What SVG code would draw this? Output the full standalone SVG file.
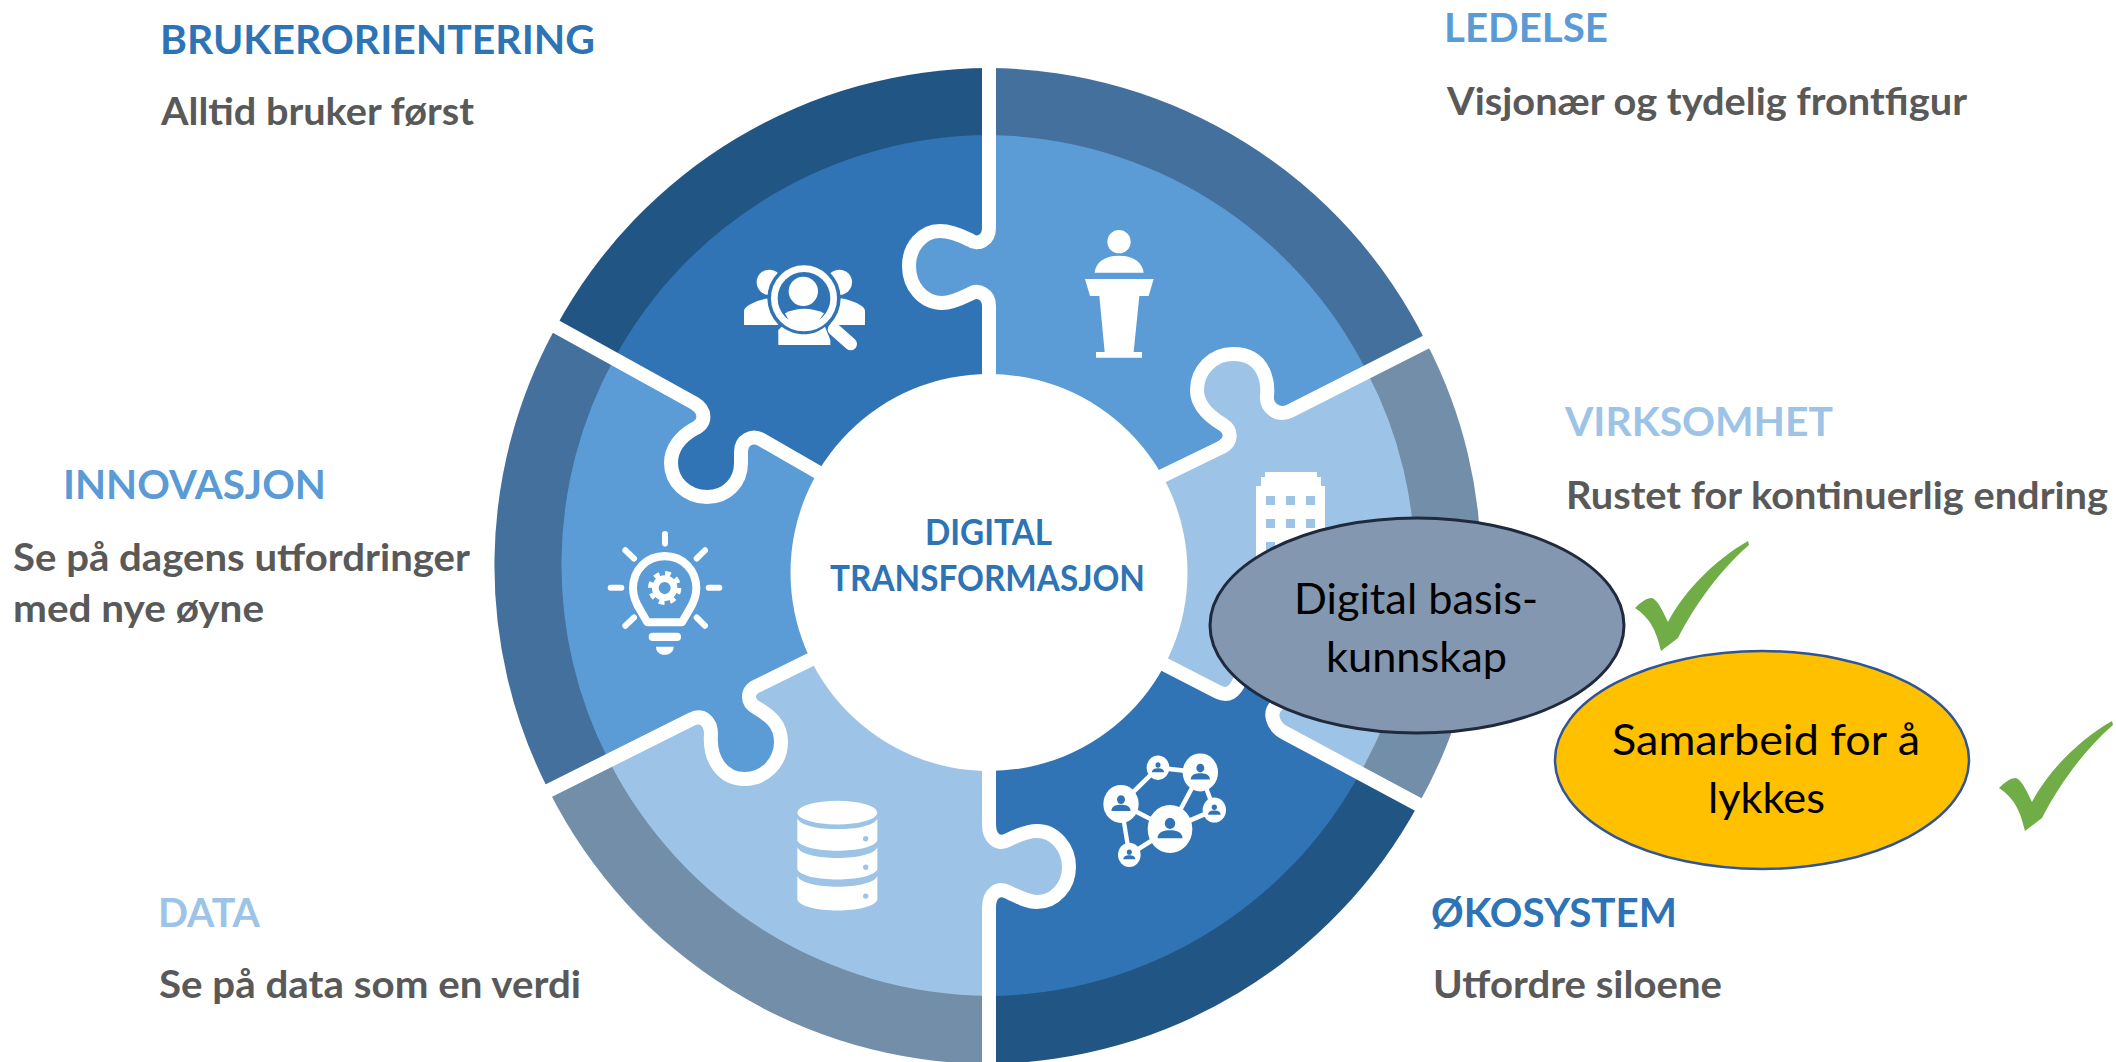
<svg xmlns="http://www.w3.org/2000/svg" width="2116" height="1062" viewBox="0 0 2116 1062">
<style>
text{font-family:Lato,"Open Sans","Liberation Sans",sans-serif}
.h{font-weight:700;font-size:40px}
.s{font-weight:700;font-size:38px;fill:#595959}
.c{font-weight:700;font-size:36px;fill:#2E74B5}
.e{font-size:42px;fill:#000}
.dk{fill:#2E74B5}.md{fill:#5B9BD5}.lt{fill:#9DC3E6}
.r1{fill:#215583}.r2{fill:#44709D}.r3{fill:#728EA8}
.i1{fill:#3074B5}.i2{fill:#5B9BD6}.i3{fill:#9DC3E6}
.w{fill:#fff}
.sep{fill:none;stroke:#fff;stroke-width:14;stroke-linejoin:round}
.ln{stroke:#fff;fill:none;stroke-linecap:round}
</style>
<defs>
<g id="person"><circle cy="-.3" r=".3"/><path d="M-.72 .5C-.72 .12-.3 .06 0 .06C.3 .06 .72 .12 .72 .5Z"/></g>
<path id="tick" fill="#70AD47" d="M1635 608C1640 603 1646 598 1652 598C1658 600 1663 612 1668 622C1685 590 1715 560 1748 541L1749 545C1720 570 1695 605 1678 638L1661 651C1656 630 1650 618 1635 608Z"/>
</defs>
<g id="ring">
<path class="r1" d="M989 566L556 327A494 494 0 0 1 989 68Z"/>
<path class="r2" d="M989 566L989 68A492 492 0 0 1 1426 342Z"/>
<path class="r3" d="M989 566L1426 342A484 484 0 0 1 1418 805Z"/>
<path class="r1" d="M989 566L1418 805A495 495 0 0 1 989 1064Z"/>
<path class="r3" d="M989 566L989 1064A495 495 0 0 1 549 791Z"/>
<path class="r2" d="M989 566L549 791A493 493 0 0 1 556 327Z"/>
</g>
<g id="brukerorientering-piece"><path class="i1" d="M614 359A429 429 0 0 1 989 135V228C989 240 978 246 970 240C960 235 950 231 940 231C922 231 909 247 909 266C909 286 923 303 942 303C952 303 962 298 970 294C978 289 989 294 989 306V572L825 476L762 440C752 434 741 440 741 452L741 463C741 482 727 497 707 497C687 497 671 482 671 463C671 449 680 437 694 429C707 423 706 410 694 403Z"/></g>
<g id="ledelse-piece"><path class="i2" d="M989 135A429 429 0 0 1 1367 372L1290 411C1278 417 1266 408 1267 396C1268 386 1267 354 1233 354C1213 354 1197 370 1197 390C1197 403 1207 415 1222 424C1232 430 1233 442 1220 448L1160 477L989 572V306C989 294 978 289 970 294C962 298 952 303 942 303C923 303 909 286 909 266C909 247 922 231 940 231C950 231 960 235 970 240C978 246 989 240 989 228Z"/></g>
<g id="virksomhet-piece"><path class="i3" d="M1367 372A418 418 0 0 1 1360 773L1285 733C1272 726 1268 712 1278 704C1290 694 1320 700 1320 650C1320 620 1270 610 1255 640C1248 655 1245 668 1240 680C1235 692 1228 697 1218 692L1155 660L989 572L1160 477L1220 448C1233 442 1232 430 1222 424C1207 415 1197 403 1197 390C1197 370 1213 354 1233 354C1267 354 1268 386 1267 396C1266 408 1278 417 1290 411Z"/></g>
<g id="okosystem-piece"><path class="i1" d="M1360 773A427 427 0 0 1 989 996V908C989 893 998 887 1008 892C1018 897 1028 902 1037 902C1055 902 1069 886 1069 867C1069 848 1055 831 1037 831C1028 831 1018 835 1008 840C998 845 989 839 989 824V572L1155 660L1218 692C1228 697 1235 692 1240 680C1245 668 1248 655 1255 640C1270 610 1320 620 1320 650C1320 700 1290 694 1278 704C1268 712 1272 726 1285 733Z"/></g>
<g id="data-piece"><path class="i3" d="M989 996A430 430 0 0 1 609 761L692 719C703 714 711 722 711 734C709 759 722 779 745 779C765 779 781 762 781 742C781 724 770 716 757 708C746 702 746 690 759 685L815 656L989 572V824C989 839 998 845 1008 840C1018 835 1028 831 1037 831C1055 831 1069 848 1069 867C1069 886 1055 902 1037 902C1028 902 1018 897 1008 892C998 887 989 893 989 908Z"/></g>
<g id="innovasjon-piece"><path class="i2" d="M609 761A429 429 0 0 1 614 359L694 403C706 410 707 423 694 429C680 437 671 449 671 463C671 482 687 497 707 497C727 497 741 482 741 463L741 452C741 440 752 434 762 440L825 476L989 572L815 656L759 685C746 690 746 702 757 708C770 716 781 724 781 742C781 762 765 779 745 779C722 779 709 759 711 734C711 722 703 714 692 719Z"/></g>
<g id="connectors">
<path class="sep" d="M989 55V228C989 240 978 246 970 240C960 235 950 231 940 231C922 231 909 247 909 266C909 286 923 303 942 303C952 303 962 298 970 294C978 289 989 294 989 306V400"/>
<path class="sep" d="M1440 335L1290 411C1278 417 1266 408 1267 396C1268 386 1267 354 1233 354C1213 354 1197 370 1197 390C1197 403 1207 415 1222 424C1232 430 1233 442 1220 448L1150 482"/>
<path class="sep" d="M1436 814L1285 733C1272 726 1268 712 1278 704C1290 694 1320 700 1320 650C1320 620 1270 610 1255 640C1248 655 1245 668 1240 680C1235 692 1228 697 1218 692L1150 657"/>
<path class="sep" d="M989 1075V908C989 893 998 887 1008 892C1018 897 1028 902 1037 902C1055 902 1069 886 1069 867C1069 848 1055 831 1037 831C1028 831 1018 835 1008 840C998 845 989 839 989 824V750"/>
<path class="sep" d="M530 800L692 719C703 714 711 722 711 734C709 759 722 779 745 779C765 779 781 762 781 742C781 724 770 716 757 708C746 702 746 690 759 685L830 650"/>
<path class="sep" d="M535 315L694 403C706 410 707 423 694 429C680 437 671 449 671 463C671 482 687 497 707 497C727 497 741 482 741 463L741 452C741 440 752 434 762 440L835 482"/>
</g>
<g id="digital-transformasjon">
<circle class="w" cx="989" cy="572.5" r="198.5"/>
<text class="c" x="925" y="545" textLength="127" lengthAdjust="spacingAndGlyphs">DIGITAL</text>
<text class="c" x="830" y="591" textLength="315" lengthAdjust="spacingAndGlyphs">TRANSFORMASJON</text>
</g>
<g id="icon-users" class="w" transform="translate(480 50) scale(.33333)">
<circle cx="868" cy="697" r="38"/><circle cx="1078" cy="697" r="38"/>
<path d="M792 825V783C792 768 830 750 868 745L895 825Z"/><path d="M1155 825V783C1155 768 1117 750 1080 745L1050 825Z"/>
<circle class="i1" cx="972" cy="745" r="110"/>
<circle cx="972" cy="745" r="89" fill="none" stroke="#fff" stroke-width="20"/>
<circle cx="970" cy="724" r="44"/>
<path d="M915 790C950 772 995 772 1032 790L1012 818C990 834 950 834 930 818Z"/>
<path d="M895 840L905 830C945 860 1000 860 1035 830L1051 870V885H895Z"/>
<path class="ln" stroke-width="38" d="M1062 838L1112 882"/>
</g>
<g id="icon-podium" class="w" transform="translate(980 50) scale(.33333)">
<circle cx="417" cy="575" r="35"/>
<path d="M344 668C346 640 370 617 417 617C464 617 488 640 491 668Z"/>
<path d="M315 687H521L506 738H478L461 906H486V923H348V906H374L358 738H330Z"/>
</g>
<g id="icon-building">
<path class="w" d="M1256 600V486H1261V477H1265V472H1317V477H1321V486H1325V600Z"/>
<g class="i3"><rect x="1266" y="496" width="9" height="9"/><rect x="1286" y="496" width="9" height="9"/><rect x="1306" y="496" width="9" height="9"/><rect x="1266" y="519" width="9" height="9"/><rect x="1286" y="519" width="9" height="9"/><rect x="1306" y="519" width="9" height="9"/><rect x="1266" y="542" width="9" height="9"/><rect x="1286" y="542" width="9" height="9"/><rect x="1306" y="542" width="9" height="9"/></g>
</g>
<g id="icon-network" transform="translate(980 500) scale(.33333 .3584)">
<path class="ln" stroke-width="13" d="M534 747L661 760M534 747L423 848M661 760L570 918M661 760L703 865M703 865L570 918M423 848L570 918M423 848L448 990M448 990L570 918"/>
<g class="w"><circle cx="534" cy="747" r="34"/><circle cx="661" cy="760" r="53"/><circle cx="423" cy="848" r="53"/><circle cx="570" cy="918" r="67"/><circle cx="703" cy="865" r="35"/><circle cx="448" cy="990" r="34"/></g>
<g class="i1">
<use href="#person" transform="translate(534 747) scale(25)"/>
<use href="#person" transform="translate(661 760) scale(40)"/>
<use href="#person" transform="translate(423 848) scale(40)"/>
<use href="#person" transform="translate(570 918) scale(52)"/>
<use href="#person" transform="translate(703 865) scale(26)"/>
<use href="#person" transform="translate(448 990) scale(25)"/>
</g>
</g>
<g id="icon-bulb" transform="translate(480 530) scale(.33333 .3393)">
<path class="ln" stroke-width="24" stroke-linejoin="round" d="M606 272H502L482 238C470 220 459 200 459 172C459 118 500 77 554 77C608 77 649 118 649 172C649 200 638 220 626 238Z"/>
<path class="ln" stroke-width="18" d="M555 12V40M675 60L650 84M718 170H686M675 282L650 258M392 170H424M436 60L462 84M436 282L462 258"/>
<rect class="w" x="506" y="303" width="97" height="24" rx="12"/>
<path class="w" d="M528 344H581C581 358 570 368 554 368C538 368 528 358 528 344Z"/>
<circle cx="554" cy="171" r="28" fill="none" stroke="#fff" stroke-width="20"/>
<circle cx="554" cy="171" r="43" fill="none" stroke="#fff" stroke-width="14" stroke-dasharray="17 16.77"/>
</g>
<g id="icon-database" transform="translate(480 530) scale(.33333 .3393)">
<g class="w"><ellipse cx="1072" cy="833" rx="120" ry="35"/>
<path d="M952 850C970 892 1175 892 1192 850V915C1175 955 970 955 952 915Z"/>
<path d="M952 935C970 977 1175 977 1192 935V1000C1175 1040 970 1040 952 1000Z"/>
<path d="M952 1020C970 1062 1175 1062 1192 1020V1090C1175 1132 970 1132 952 1090Z"/></g>
<g class="i3"><circle cx="1157" cy="910" r="8"/><circle cx="1157" cy="994" r="8"/><circle cx="1157" cy="1079" r="8"/></g>
</g>
<g id="label-brukerorientering"><text class="h dk" x="160" y="54" textLength="435" lengthAdjust="spacingAndGlyphs">BRUKERORIENTERING</text><text class="s" x="161" y="125" textLength="313" lengthAdjust="spacingAndGlyphs">Alltid bruker først</text></g>
<g id="label-ledelse"><text class="h md" x="1444" y="42" textLength="164" lengthAdjust="spacingAndGlyphs">LEDELSE</text><text class="s" x="1447" y="115" textLength="520" lengthAdjust="spacingAndGlyphs">Visjonær og tydelig frontfigur</text></g>
<g id="label-virksomhet"><text class="h lt" x="1565" y="436" textLength="268" lengthAdjust="spacingAndGlyphs">VIRKSOMHET</text><text class="s" x="1566" y="509" textLength="542" lengthAdjust="spacingAndGlyphs">Rustet for kontinuerlig endring</text></g>
<g id="label-innovasjon"><text class="h md" x="63" y="499" textLength="263" lengthAdjust="spacingAndGlyphs">INNOVASJON</text><text class="s" x="13" y="571" textLength="457" lengthAdjust="spacingAndGlyphs">Se på dagens utfordringer</text><text class="s" x="13" y="622" textLength="251" lengthAdjust="spacingAndGlyphs">med nye øyne</text></g>
<g id="label-data"><text class="h lt" x="158" y="927" textLength="102" lengthAdjust="spacingAndGlyphs">DATA</text><text class="s" x="159" y="998" textLength="422" lengthAdjust="spacingAndGlyphs">Se på data som en verdi</text></g>
<g id="label-okosystem"><text class="h dk" x="1431" y="927" textLength="246" lengthAdjust="spacingAndGlyphs">ØKOSYSTEM</text><text class="s" x="1433" y="998" textLength="289" lengthAdjust="spacingAndGlyphs">Utfordre siloene</text></g>
<g id="digital-basiskunnskap"><ellipse cx="1417" cy="625.5" rx="207" ry="107.5" fill="#8497B0" stroke="#1F2A3C" stroke-width="3"/>
<text class="e" x="1294" y="614" textLength="244" lengthAdjust="spacingAndGlyphs">Digital basis-</text><text class="e" x="1326" y="672" textLength="181" lengthAdjust="spacingAndGlyphs">kunnskap</text></g>
<g id="samarbeid"><ellipse cx="1762" cy="760" rx="207" ry="109" fill="#FFC000" stroke="#2F5597" stroke-width="2.5"/>
<text class="e" x="1612" y="755" textLength="308" lengthAdjust="spacingAndGlyphs">Samarbeid for å</text><text class="e" x="1708" y="813" textLength="117" lengthAdjust="spacingAndGlyphs">lykkes</text></g>
<g id="checks"><use href="#tick"/><use href="#tick" transform="translate(364 180)"/></g>
</svg>
